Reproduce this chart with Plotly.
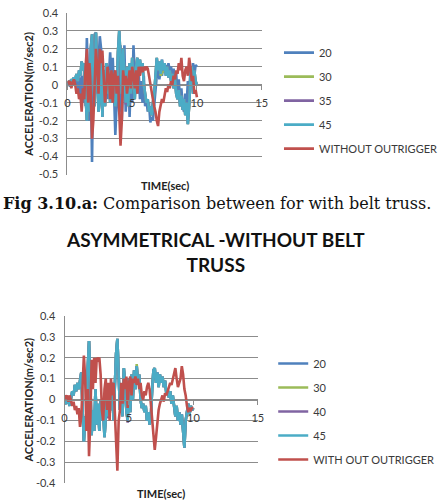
import plotly.graph_objects as go

W, H = 443, 503

# ---------------- data ----------------
time_s = [round(i * 0.1, 1) for i in range(101)]

# Chart 1 (with belt truss)
c1_20 = [0.00, 0.01, -0.01, 0.02, 0.00, 0.03, 0.01, 0.05, -0.03, 0.04,
         -0.08, 0.05, -0.10, 0.10, -0.12, 0.26, 0.05, -0.20, 0.10, -0.43,
         0.10, 0.28, 0.29, -0.05, 0.12, 0.27, 0.20, -0.15, 0.05, -0.12,
         0.10, -0.08, 0.05, 0.18, 0.02, 0.15, -0.05, -0.28, -0.10, 0.05,
         -0.15, 0.22, -0.20, 0.05, 0.22, -0.15, 0.00, 0.10, -0.18, 0.05,
         -0.10, 0.22, 0.05, 0.12, -0.05, 0.08, -0.08, 0.02, -0.10, 0.05,
         -0.12, -0.08, -0.15, -0.10, -0.21, -0.18, -0.20, -0.10, -0.05, 0.05,
         0.10, 0.03, 0.08, 0.05, 0.10, 0.07, 0.11, 0.06, 0.12, 0.08,
         0.10, 0.05, 0.09, 0.02, 0.06, -0.05, 0.03, -0.10, -0.02, -0.12,
         -0.15, -0.05, -0.12, 0.02, -0.05, 0.08, 0.02, 0.12, 0.05, 0.11,
         0.10]
c1_45 = [0.00, 0.02, 0.01, 0.03, 0.02, 0.04, 0.03, 0.06, 0.02, 0.08,
         0.05, 0.13, 0.08, 0.12, -0.05, -0.20, -0.08, -0.15, 0.20, 0.28,
         0.05, -0.12, 0.29, 0.10, -0.15, -0.08, 0.18, -0.18, 0.08, -0.12,
         0.12, -0.05, 0.08, -0.10, 0.05, -0.08, 0.02, -0.12, -0.05, 0.18,
         0.30, 0.15, -0.05, 0.20, 0.05, -0.10, 0.10, -0.12, 0.12, -0.05,
         0.15, 0.05, -0.08, 0.10, 0.15, 0.06, 0.14, 0.08, 0.12, 0.00,
         -0.05, -0.10, -0.08, -0.15, -0.12, -0.17, -0.10, -0.05, 0.05, 0.15,
         0.08, 0.13, 0.06, 0.14, 0.08, 0.12, 0.05, 0.10, 0.04, 0.08,
         0.02, 0.06, -0.02, 0.03, -0.05, -0.08, -0.03, -0.12, -0.06, -0.14,
         -0.08, -0.17, -0.10, -0.22, -0.12, 0.05, 0.10, -0.05, 0.08, 0.02,
         0.00]
c1_30 = [0.00, 0.02, 0.01, 0.03, 0.02, 0.04, 0.03, 0.06, 0.02, 0.08,
         0.05, 0.13, 0.08, 0.12, -0.05, -0.20, -0.08, -0.15, 0.20, 0.28,
         0.05, -0.12, 0.29, 0.10, -0.15, -0.08, 0.18, -0.18, 0.08, -0.12,
         0.12, -0.05, 0.08, -0.10, 0.05, -0.08, 0.02, -0.12, -0.05, 0.18,
         0.30, 0.15, -0.05, 0.20, 0.05, -0.10, 0.10, -0.12, 0.12, -0.05,
         0.15, 0.05, -0.08, 0.10, 0.15, 0.06, 0.14, 0.08, 0.12, 0.00,
         -0.05, -0.10, -0.08, -0.15, -0.12, -0.17, -0.10, -0.05, 0.05, 0.15,
         0.08, 0.12, 0.05, 0.07, 0.08, 0.12, 0.05, 0.10, 0.04, 0.08,
         0.02, 0.06, -0.02, 0.03, -0.05, -0.08, -0.03, -0.12, -0.06, -0.14,
         -0.08, -0.17, -0.10, -0.22, -0.12, 0.05, 0.10, -0.05, 0.08, 0.02,
         0.00]
c1_35 = [0.00, 0.02, 0.01, 0.03, 0.02, 0.04, 0.03, 0.06, 0.02, 0.08,
         0.05, 0.13, 0.08, 0.12, -0.05, -0.20, -0.08, -0.15, 0.20, 0.28,
         0.05, -0.12, 0.29, 0.10, -0.15, -0.08, 0.18, -0.18, 0.08, -0.12,
         0.12, -0.05, 0.08, -0.10, 0.05, -0.08, 0.02, -0.12, -0.05, 0.18,
         0.30, 0.15, -0.05, 0.20, 0.05, -0.11, 0.10, -0.12, 0.12, -0.05,
         0.15, 0.05, -0.08, 0.10, 0.15, 0.06, 0.14, 0.08, 0.12, 0.00,
         -0.05, -0.10, -0.08, -0.15, -0.12, -0.17, -0.10, -0.05, 0.05, 0.15,
         0.08, 0.13, 0.06, 0.14, 0.08, 0.12, 0.05, 0.10, 0.04, 0.08,
         0.02, 0.06, -0.02, 0.03, -0.05, -0.08, -0.03, -0.12, -0.06, -0.14,
         -0.08, -0.17, -0.10, -0.22, -0.12, 0.05, 0.10, -0.05, 0.08, 0.02,
         0.00]
c1_without = [0.02, 0.01, 0.02, -0.02, 0.01, 0.03, 0.00, -0.05, -0.02, -0.08,
              -0.05, -0.15, -0.02, -0.08, 0.10, 0.20, -0.10, 0.12, -0.05, -0.30,
              -0.20, 0.05, 0.20, 0.10, -0.05, 0.20, 0.12, 0.19, 0.00, -0.10,
              -0.02, 0.10, 0.05, -0.08, 0.08, -0.10, 0.05, 0.08, -0.05, 0.05,
              -0.15, -0.34, -0.20, 0.08, 0.00, 0.05, -0.05, 0.02, 0.08, -0.02,
              0.10, 0.05, -0.02, 0.08, -0.05, 0.10, 0.05, 0.10, 0.07, 0.10,
              0.08, 0.10, 0.09, 0.05, 0.00, -0.05, -0.08, -0.12, -0.15, -0.20,
              -0.23, -0.15, -0.12, -0.08, -0.10, -0.05, -0.02, -0.04, 0.00, -0.02,
              0.02, 0.00, 0.05, 0.03, 0.08, 0.06, 0.12, 0.08, 0.15, 0.05,
              0.02, 0.08, 0.10, 0.05, 0.15, 0.10, 0.02, 0.05, -0.05, -0.03,
              -0.07]

# Chart 2 (asymmetrical - without belt truss)
c2_45 = [-0.01, -0.02, 0.00, -0.01, -0.03, 0.01, 0.04, 0.02, 0.07, 0.04,
         0.08, 0.05, 0.10, 0.13, -0.05, -0.20, -0.08, -0.12, 0.15, 0.28,
         0.10, -0.17, -0.05, -0.15, 0.05, -0.12, -0.02, -0.15, 0.00, -0.10,
         -0.05, -0.18, -0.08, 0.02, -0.08, 0.05, -0.05, 0.08, -0.10, 0.12,
         0.22, 0.29, 0.10, -0.05, 0.05, -0.08, 0.15, 0.08, -0.05, -0.10,
         0.10, -0.06, 0.12, 0.00, 0.14, 0.05, 0.16, 0.08, 0.12, 0.00,
         -0.04, -0.02, -0.06, -0.03, -0.10, -0.06, -0.12, -0.08, 0.05, 0.14,
         0.15, 0.08, 0.13, 0.06, 0.12, 0.08, 0.11, 0.06, 0.09, 0.03,
         0.05, 0.01, 0.04, -0.02, 0.02, -0.05, -0.08, -0.03, -0.10, -0.06,
         -0.12, -0.07, -0.15, -0.23, -0.10, -0.05, -0.02, -0.07, -0.03, -0.05,
         -0.04]
c2_20 = [-0.01, -0.02, 0.00, -0.01, -0.03, 0.01, 0.04, 0.02, 0.07, 0.04,
         0.08, 0.05, 0.10, 0.13, -0.05, -0.20, -0.08, -0.12, 0.15, 0.28,
         0.10, -0.17, -0.05, -0.15, 0.05, -0.12, -0.02, -0.15, 0.00, -0.10,
         -0.05, -0.18, -0.08, 0.02, -0.08, 0.05, -0.05, 0.08, -0.10, 0.12,
         0.22, 0.29, 0.10, -0.05, 0.05, -0.08, 0.15, 0.08, -0.05, -0.10,
         0.10, -0.06, 0.12, 0.00, 0.14, 0.05, 0.16, 0.08, 0.12, 0.00,
         -0.04, -0.02, -0.06, -0.03, -0.10, -0.06, -0.12, -0.08, 0.05, 0.14,
         0.15, 0.08, 0.13, 0.06, 0.12, 0.08, 0.11, 0.06, 0.09, 0.03,
         0.05, 0.01, 0.04, -0.02, 0.02, -0.05, -0.08, -0.03, -0.10, -0.06,
         -0.12, -0.07, -0.15, -0.23, -0.10, -0.05, -0.02, -0.07, -0.03, -0.05,
         -0.04]
c2_30 = [-0.01, -0.02, 0.00, -0.01, -0.03, 0.01, 0.04, 0.02, 0.07, 0.04,
         0.08, 0.05, 0.10, 0.13, -0.05, -0.20, -0.08, -0.12, 0.15, 0.28,
         0.10, -0.17, -0.05, -0.15, 0.05, -0.12, -0.02, -0.15, 0.00, -0.10,
         -0.05, -0.18, -0.08, 0.02, -0.08, 0.05, -0.05, 0.08, -0.10, 0.12,
         0.22, 0.29, 0.10, -0.05, 0.05, -0.08, 0.15, 0.08, -0.05, -0.10,
         0.10, -0.06, 0.12, 0.00, 0.14, 0.05, 0.17, 0.08, 0.12, 0.00,
         -0.04, -0.02, -0.06, -0.03, -0.10, -0.06, -0.12, -0.08, 0.05, 0.14,
         0.15, 0.08, 0.12, 0.06, 0.12, 0.08, 0.11, 0.06, 0.09, 0.03,
         0.05, 0.01, 0.04, -0.02, 0.02, -0.05, -0.08, -0.03, -0.10, -0.06,
         -0.12, -0.07, -0.15, -0.23, -0.10, -0.05, -0.02, -0.07, -0.03, -0.05,
         -0.04]
c2_40 = [-0.01, -0.02, 0.00, -0.01, -0.03, 0.01, 0.04, 0.02, 0.07, 0.04,
         0.08, 0.05, 0.10, 0.13, -0.05, -0.20, -0.08, -0.12, 0.15, 0.28,
         0.10, -0.17, -0.05, -0.15, 0.05, -0.12, -0.02, -0.15, 0.00, -0.10,
         -0.05, -0.18, -0.08, 0.02, -0.09, 0.05, -0.05, 0.08, -0.10, 0.12,
         0.22, 0.29, 0.10, -0.05, 0.05, -0.08, 0.15, 0.08, -0.05, -0.11,
         0.10, -0.06, 0.12, 0.00, 0.14, 0.05, 0.16, 0.08, 0.12, 0.00,
         -0.04, -0.02, -0.06, -0.03, -0.10, -0.06, -0.12, -0.08, 0.05, 0.14,
         0.15, 0.08, 0.13, 0.06, 0.12, 0.08, 0.11, 0.06, 0.09, 0.03,
         0.05, 0.01, 0.04, -0.02, 0.02, -0.05, -0.08, -0.03, -0.10, -0.06,
         -0.12, -0.07, -0.15, -0.23, -0.10, -0.05, -0.02, -0.07, -0.03, -0.05,
         -0.04]
c2_without = [0.02, 0.01, 0.02, -0.01, 0.02, 0.00, -0.03, -0.01, -0.05, -0.03,
              -0.07, -0.04, -0.13, -0.08, 0.05, 0.21, 0.10, -0.15, 0.05, -0.27,
              -0.10, 0.19, 0.05, 0.20, 0.08, 0.20, 0.19, 0.20, 0.12, -0.05,
              -0.10, 0.05, 0.10, -0.05, 0.08, -0.10, 0.10, 0.02, 0.08, -0.08,
              -0.15, -0.34, -0.10, -0.05, 0.08, -0.02, 0.10, 0.05, 0.11, -0.04,
              0.08, 0.11, 0.02, 0.10, 0.08, 0.11, 0.07, 0.10, 0.05, 0.08,
              0.02, 0.00, 0.04, 0.02, 0.06, 0.08, 0.05, -0.02, -0.10, -0.18,
              -0.24, -0.18, -0.10, -0.05, -0.02, 0.00, 0.02, -0.01, 0.03, 0.02,
              0.04, 0.06, 0.08, 0.07, 0.10, 0.12, 0.15, 0.10, 0.06, 0.08,
              0.10, 0.16, 0.12, 0.05, 0.02, -0.03, -0.06, -0.04, -0.05, -0.04,
              -0.04]

names1 = ["20", "30", "35", "45", "WITHOUT OUTRIGGER"]
names2 = ["20", "30", "40", "45", "WITH OUT OUTRIGGER"]
series1 = [c1_20, c1_30, c1_35, c1_45, c1_without]
series2 = [c2_20, c2_30, c2_40, c2_45, c2_without]

x_ticks = [0, 5, 10, 15]
y1_ticks = [0.4, 0.3, 0.2, 0.1, 0, -0.1, -0.2, -0.3, -0.4, -0.5]
y1_labels = ["0.4", "0.3", "0.2", "0.1", "0", "-0.1", "-0.2", "-0.3", "-0.4", "-0.5"]
y2_ticks = [0.4, 0.3, 0.2, 0.1, 0, -0.1, -0.2, -0.3, -0.4]
y2_labels = ["0.4", "0.3", "0.2", "0.1", "0", "-0.1", "-0.2", "-0.3", "-0.4"]

caption = "<b>Fig 3.10.a:</b> Comparison between for with belt truss."
title2 = "ASYMMETRICAL -WITHOUT BELT<br>TRUSS"
y_title = "ACCELERATION(m/sec2)"
x_title = "TIME(sec)"

# ---------------- styling ----------------
colors = ["#4F81BD", "#9BBB59", "#8064A2", "#4BACC6", "#C0504D"]
GRID = "#8c8c8c"
TXT = "#3a3a3a"
FONT = "Lato"


def fx(px):
    return px / W


def fy(py):
    return 1 - py / H


# plot area pixel boxes
p1 = dict(x0=67, x1=269, y0=6, y1=172, ymin=-0.5, ymax=0.4)
p2 = dict(x0=64, x1=265, y0=317, y1=489, ymin=-0.4, ymax=0.4)

fig = go.Figure()

for i, (nm, ys) in enumerate(zip(names1, series1)):
    fig.add_trace(go.Scatter(x=time_s, y=ys, mode="lines", name=nm,
                             line=dict(color=colors[i], width=2.6),
                             xaxis="x", yaxis="y", legend="legend",
                             legendgroup="a" + str(i)))
for i, (nm, ys) in enumerate(zip(names2, series2)):
    fig.add_trace(go.Scatter(x=time_s, y=ys, mode="lines", name=nm,
                             line=dict(color=colors[i], width=2.6),
                             xaxis="x2", yaxis="y2", legend="legend2",
                             legendgroup="b" + str(i)))


def yaxis_cfg(p, ticks, labels, anchor):
    return dict(domain=[fy(p["y1"]), fy(p["y0"])], range=[p["ymin"], p["ymax"]],
                tickvals=ticks, ticktext=labels, showgrid=True, gridcolor=GRID,
                gridwidth=1, zeroline=False, showline=True, linecolor=GRID,
                linewidth=1, ticks="", ticklabelstandoff=6, anchor=anchor,
                tickfont=dict(family=FONT, size=11, color=TXT), fixedrange=True)


def xaxis_cfg(p, anchor_y):
    d0, d1 = fy(p["y1"]), fy(p["y0"])
    pos = d0 + (0 - p["ymin"]) / (p["ymax"] - p["ymin"]) * (d1 - d0)
    return dict(domain=[fx(p["x0"]), fx(p["x1"])], range=[0, 15],
                tickvals=x_ticks, showgrid=False, zeroline=False,
                showline=True, linecolor=GRID, linewidth=1,
                ticks="outside", ticklen=4, tickcolor=GRID,
                ticklabelstandoff=4, anchor="free", position=pos,
                tickfont=dict(family=FONT, size=11, color=TXT), fixedrange=True)


legend_common = dict(xanchor="left", yanchor="top", bgcolor="rgba(0,0,0,0)",
                     borderwidth=0, itemwidth=30, tracegroupgap=5,
                     font=dict(family=FONT, size=11, color=TXT),
                     itemclick=False, itemdoubleclick=False)

fig.update_layout(
    width=W, height=H, margin=dict(l=0, r=0, t=0, b=0),
    paper_bgcolor="white", plot_bgcolor="white",
    showlegend=True,
    xaxis=xaxis_cfg(p1, "y"),
    yaxis=yaxis_cfg(p1, y1_ticks, y1_labels, "x"),
    xaxis2=xaxis_cfg(p2, "y2"),
    yaxis2=yaxis_cfg(p2, y2_ticks, y2_labels, "x2"),
    legend=dict(x=fx(287), y=fy(32), **legend_common),
    legend2=dict(x=fx(281), y=fy(351), **legend_common),
)

ann = []
# axis titles
for p, ty in ((p1, 183), (p2, 499)):
    ann.append(dict(text=f"<b>{x_title}</b>", x=fx((p["x0"] + p["x1"]) / 2), y=fy(ty),
                    xref="paper", yref="paper", showarrow=False, xanchor="center",
                    yanchor="middle", font=dict(family=FONT, size=11, color="#222")))
for p, tx in ((p1, 27), (p2, 27)):
    ann.append(dict(text=f"<b>{y_title}</b>", x=fx(tx), y=fy((p["y0"] + p["y1"]) / 2),
                    xref="paper", yref="paper", showarrow=False, xanchor="center",
                    yanchor="middle", textangle=-90,
                    font=dict(family=FONT, size=11, color="#222")))
# caption and second title
ann.append(dict(text=caption, x=fx(223), y=fy(202), xref="paper", yref="paper",
                showarrow=False, xanchor="center", yanchor="middle",
                font=dict(family="DejaVu Serif", size=16, color="#111")))
ann.append(dict(text=f"<b>{title2}</b>", x=fx(221), y=fy(251), xref="paper", yref="paper",
                showarrow=False, xanchor="center", yanchor="middle",
                font=dict(family=FONT, size=19, color="#111")))
fig.update_layout(annotations=ann)

fig.write_html("out.html", config={"displayModeBar": False})
